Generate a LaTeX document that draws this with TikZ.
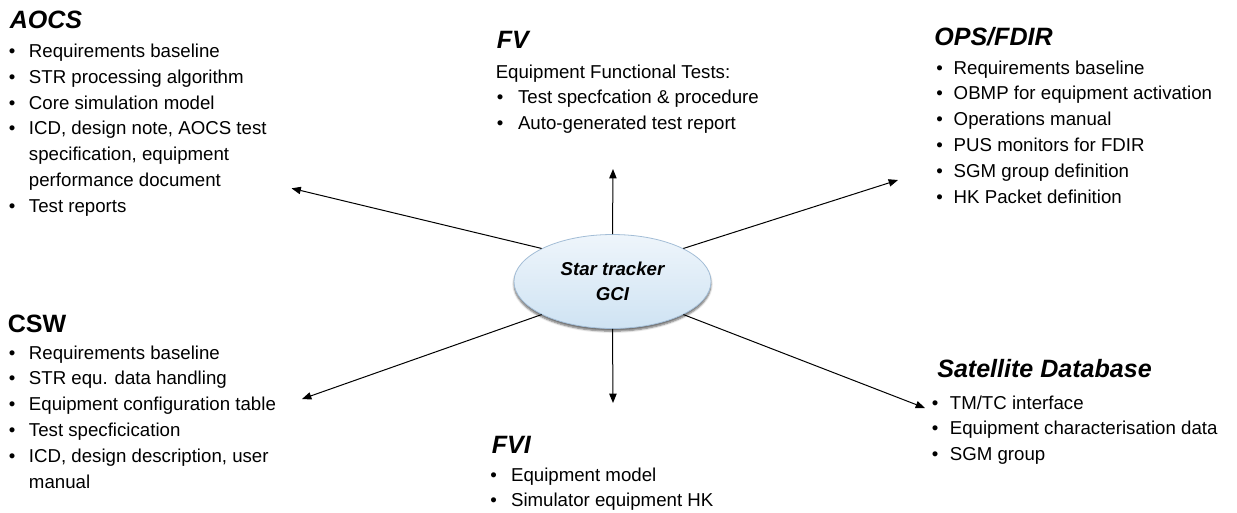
\documentclass[tikz,border=0pt]{standalone}
\usepackage{fontspec}
\setmainfont{Liberation Sans}
\usetikzlibrary{arrows.meta,shapes.geometric,shadows.blur}

% bullet list: first column holds the bullet, second the item text
\newenvironment{blist}[1]%
  {\fontsize{14}{19.35}\selectfont\begin{tabular}[t]{@{}p{#1}@{}l@{}}}%
  {\end{tabular}}

\definecolor{hubtop}{HTML}{EEF5FB}
\definecolor{hubbot}{HTML}{CFE3F3}
\definecolor{hubedge}{HTML}{A3BDD6}

\begin{document}
\begin{tikzpicture}[x=0.75pt,y=-0.75pt,
  title/.style={anchor=base west, inner sep=0pt,
    font=\fontsize{18.8}{22}\selectfont\bfseries\itshape},
  plaintitle/.style={title, font=\fontsize{18.8}{22}\selectfont\bfseries},
  items/.style={anchor=base west, inner sep=0pt},
  link/.style={line width=0.75pt, -{Triangle[length=7pt,width=5.5pt]}},
  hub/.style={ellipse, inner sep=0pt, minimum width=147.75pt, minimum height=70.5pt,
    draw=hubedge, line width=0.6pt, top color=hubtop, bottom color=hubbot,
    blur shadow={shadow xshift=0pt, shadow yshift=-2pt, shadow blur steps=5,
      shadow blur radius=1.5pt, shadow opacity=60},
    align=center, font=\fontsize{14}{18.75}\selectfont\bfseries\itshape}]

\useasboundingbox (0,0) rectangle (1237,512);

% central element
\node[hub] (gci) at (612.5,281.5) {Star tracker\\GCI};

% AOCS (upper left)
\node[title] (aocsT) at (9.5,28) {AOCS};
\node[items] (aocsL) at (8.7,57.5) {\begin{blist}{15pt}
• & Requirements baseline\\
• & STR processing algorithm\\
• & Core simulation model\\
• & ICD, design note, AOCS test\\
  & specification, equipment\\
  & performance document\\
• & Test reports
\end{blist}};

% CSW (lower left)
\node[plaintitle] (cswT) at (7.5,332) {CSW};
\node[items] (cswL) at (8.7,359) {\begin{blist}{15pt}
• & Requirements baseline\\
• & STR equ. data handling\\
• & Equipment configuration table\\
• & Test specficication\\
• & ICD, design description, user\\
  & manual
\end{blist}};

% FV (top middle)
\node[title] (fvT) at (496.5,48) {FV};
\node[items] (fvH) at (495.5,78) {\fontsize{14}{19.35}\selectfont Equipment Functional Tests:};
\node[items] (fvL) at (496.7,103.8) {\begin{blist}{15.8pt}
• & Test specfcation \& procedure\\
• & Auto-generated test report
\end{blist}};

% FVI (bottom middle)
\node[title] (fviT) at (491.5,453) {FVI};
\node[items] (fviL) at (490,481) {\begin{blist}{15.6pt}
• & Equipment model\\
• & Simulator equipment HK
\end{blist}};

% OPS/FDIR (upper right)
\node[title] (opsT) at (934,45) {OPS/FDIR};
\node[items] (opsL) at (936,74) {\begin{blist}{13.1pt}
• & Requirements baseline\\
• & OBMP for equipment activation\\
• & Operations manual\\
• & PUS monitors for FDIR\\
• & SGM group definition\\
• & HK Packet definition
\end{blist}};

% Satellite Database (lower right)
\node[title] (sdbT) at (937,377) {Satellite Database};
\node[items] (sdbL) at (931.7,409) {\begin{blist}{13.4pt}
• & TM/TC interface\\
• & Equipment characterisation data\\
• & SGM group
\end{blist}};

% arrow end points
\coordinate (tAOCS) at (291.5,188.3);
\coordinate (tFV)   at (613,169);
\coordinate (tOPS)  at (898,180);
\coordinate (tCSW)  at (302,399);
\coordinate (tFVI)  at (613,403);
\coordinate (tSDB)  at (925,408);

\draw[link] (gci.155) -- (tAOCS);
\draw[link] (gci.90)  -- (tFV);
\draw[link] (gci.25)  -- (tOPS);
\draw[link] (gci.205) -- (tCSW);
\draw[link] (gci.270) -- (tFVI);
\draw[link] (gci.335) -- (tSDB);

\end{tikzpicture}
\end{document}
